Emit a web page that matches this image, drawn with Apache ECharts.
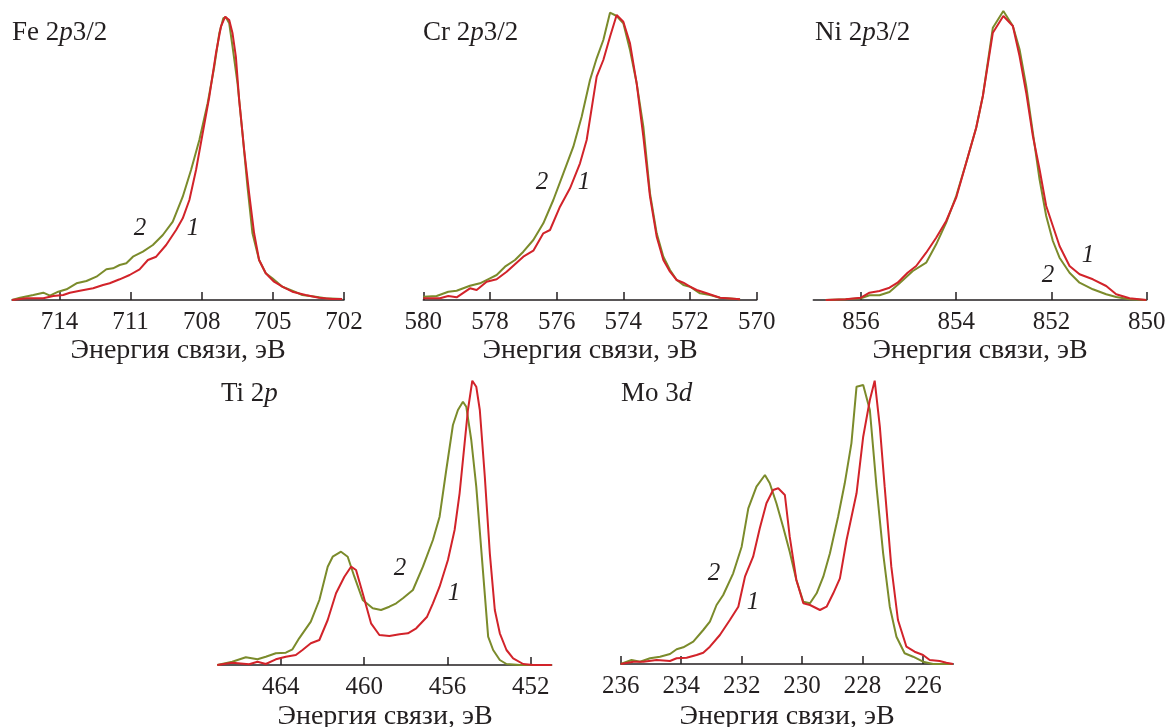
<!DOCTYPE html>
<html><head><meta charset="utf-8">
<script src="https://cdn.jsdelivr.net/npm/echarts@6/dist/echarts.min.js"></script>
<style>html,body{margin:0;padding:0;background:#fff}#c{width:1168px;height:727px}</style>
</head><body><div id="c"></div>
<script>
// ---- Fe 2p3/2 ----
const fe1E = [716, 715.38, 714.68, 714.26, 713.84, 713.56, 713.14, 712.58, 712.16, 711.88, 711.46, 711.04, 710.62, 710.27, 709.92, 709.50, 709.08, 708.80, 708.52, 708.24, 707.96, 707.68, 707.40, 707.19, 707.01, 706.84, 706.70, 706.56, 706.42, 706.21, 706.00, 705.79, 705.58, 705.30, 704.95, 704.60, 704.18, 703.62, 703.06, 702.50, 702.08];
const fe1I = [0, 1.7, 1.7, 4, 5, 7.3, 9.3, 11.7, 15, 16.7, 20.7, 25, 30.7, 40, 43.3, 55, 70, 81.7, 100, 130, 166.7, 203.3, 246.7, 273.3, 283.3, 280, 266.7, 243.3, 200, 150, 106.7, 66.7, 40, 26.7, 18.3, 13.3, 8.3, 5, 2.3, 1, 1];
const fe2E = [716, 715.66, 715.10, 714.68, 714.40, 714.05, 713.70, 713.28, 712.86, 712.44, 712.02, 711.74, 711.46, 711.18, 710.90, 710.48, 710.06, 709.64, 709.22, 708.80, 708.45, 708.10, 707.75, 707.47, 707.26, 707.09, 706.98, 706.84, 706.70, 706.49, 706.28, 706.07, 705.86, 705.58, 705.30, 705.02, 704.60, 704.18, 703.76, 703.20, 702.78, 702.08];
const fe2I = [0, 2.3, 5, 7.3, 4.3, 8.3, 10.7, 16.7, 19, 23.3, 30.7, 31.7, 35, 36.7, 43.3, 48.3, 55, 65, 78.3, 103.3, 130, 160, 196.7, 233.3, 266.7, 281.7, 282.7, 276.7, 253.3, 216.7, 166.7, 113.3, 66.7, 40, 26.7, 21.7, 13.3, 9.3, 5, 3.3, 1.7, 1];
const feTicks = [714, 711, 708, 705, 702];

// ---- Cr 2p3/2 ----
const cr1E = [580, 579.5, 579.25, 579, 578.6, 578.4, 578.1, 577.8, 577.5, 577, 576.7, 576.4, 576.2, 575.9, 575.6, 575.3, 575.1, 574.8, 574.6, 574.4, 574.2, 574, 573.8, 573.6, 573.4, 573.2, 573, 572.8, 572.6, 572.4, 572.2, 572, 571.8, 571.5, 571.1, 570.5];
const cr1I = [1.7, 1.7, 4, 2.7, 11.7, 10, 18.3, 20.7, 28.3, 43.3, 49.3, 66.7, 70, 93.3, 111.7, 136.7, 160, 223.3, 240, 263.3, 285, 278.3, 256.7, 216.7, 163.3, 103.3, 63.3, 40, 28.3, 20, 17.3, 13.3, 10, 6.7, 2.3, 0.7];
const cr2E = [580, 579.6, 579.25, 579, 578.6, 578.3, 578, 577.8, 577.55, 577.25, 577, 576.7, 576.4, 576.1, 575.8, 575.5, 575.25, 575, 574.8, 574.6, 574.4, 574.2, 574, 573.8, 573.6, 573.4, 573.2, 573, 572.8, 572.6, 572.4, 572.2, 572, 571.7, 571.4, 571.1, 570.5];
const cr2I = [3.3, 4, 8.3, 9.3, 14.3, 16.7, 21.7, 25, 33.3, 40, 48.3, 60, 76.7, 100, 126.7, 153.3, 183.3, 220, 241.7, 260, 287.3, 284, 276.7, 250, 216.7, 173.3, 106.7, 66.7, 43.3, 30, 20, 15, 13.3, 6.7, 5, 2.3, 0.7];
const crTicks = [580, 578, 576, 574, 572, 570];

// ---- Ni 2p3/2 ----
const ni1E = [856.74, 856.32, 856, 855.82, 855.61, 855.40, 855.23, 855.02, 854.84, 854.63, 854.42, 854.21, 854.00, 853.79, 853.58, 853.44, 853.23, 853.01, 852.81, 852.67, 852.53, 852.39, 852.25, 852.11, 851.97, 851.83, 851.62, 851.41, 851.13, 850.85, 850.64, 850.36, 850.01];
const ni1I = [0, 0.7, 2.3, 7.3, 9, 12.3, 17.3, 27.3, 34, 47.3, 62.3, 79, 102.3, 137.3, 172.3, 204, 267.3, 284, 274, 244, 207.3, 164, 130.7, 94, 74, 54, 34, 25.7, 20.7, 14, 5.7, 1.7, 0];
const ni2E = [856.74, 856.32, 856, 855.82, 855.61, 855.40, 855.19, 854.91, 854.63, 854.42, 854.21, 854.00, 853.79, 853.58, 853.44, 853.23, 853.01, 852.81, 852.67, 852.53, 852.39, 852.25, 852.11, 851.97, 851.83, 851.62, 851.41, 851.13, 850.85, 850.64, 850.36, 850.01];
const ni2I = [0, 0.7, 1.7, 4.7, 4.7, 8, 16.7, 29, 37.3, 55.7, 77.3, 104, 137.3, 172.3, 204, 272.3, 289, 274, 250.7, 214, 167.3, 120.7, 84, 59, 42.3, 27.3, 17.3, 10.7, 5.7, 3, 0.7, 0];
const niTicks = [856, 854, 852, 850];

// ---- Ti 2p ----
const ti1E = [467.05, 466.33, 465.52, 465.12, 464.72, 464.24, 463.76, 463.28, 462.96, 462.56, 462.15, 461.75, 461.35, 460.95, 460.63, 460.39, 460.07, 459.67, 459.27, 458.79, 458.30, 457.90, 457.50, 456.98, 456.70, 456.38, 455.98, 455.66, 455.42, 455.18, 455.02, 454.81, 454.62, 454.45, 454.21, 453.97, 453.73, 453.49, 453.17, 452.85, 452.37, 451.89, 451.00];
const ti1I = [0, 2.3, 0.7, 3.3, 1, 5.7, 8.3, 10, 15, 21.7, 25, 45, 71.7, 88.3, 98.3, 95, 71.7, 41.7, 30, 29, 30.7, 31.7, 36.7, 48.3, 61.7, 78.3, 105, 135, 171.7, 221.7, 255, 284.3, 278.3, 255, 188.3, 111.7, 55, 31.7, 15, 6.7, 1, 0, 0];
const ti2E = [467.05, 466.33, 465.68, 465.12, 464.72, 464.24, 463.76, 463.44, 463.12, 462.56, 462.15, 461.75, 461.51, 461.11, 460.79, 460.47, 460.07, 459.59, 459.19, 458.79, 458.46, 458.14, 457.66, 457.18, 456.70, 456.38, 456.06, 455.74, 455.50, 455.26, 455.10, 454.86, 454.62, 454.29, 454.05, 453.81, 453.49, 453.17, 452.53, 451.00];
const ti2I = [0, 3.3, 7.7, 5.7, 8.3, 11.7, 12.3, 15.7, 26.7, 43.3, 65, 98.3, 108.3, 113.3, 108.3, 88.3, 65, 56.7, 55, 58.3, 61.7, 66.7, 75, 98.3, 125, 148.3, 195, 240, 255, 263.3, 258.3, 225, 178.3, 91.7, 28.3, 15, 5, 1, 0, 0];
const tiTicks = [464, 460, 456, 452];

// ---- Mo 3d ----
const mo1E = [236, 235.58, 235.25, 234.81, 234.37, 234.15, 233.82, 233.49, 233.27, 233.05, 232.72, 232.39, 232.11, 231.89, 231.62, 231.40, 231.18, 230.96, 230.79, 230.57, 230.41, 230.19, 229.96, 229.74, 229.41, 229.19, 228.97, 228.75, 228.53, 228.20, 227.98, 227.76, 227.60, 227.43, 227.27, 227.05, 226.83, 226.55, 226.28, 226.00, 225.78, 225.45, 225.23, 225.01];
const mo1I = [0, 2.3, 2.3, 4, 3, 5.7, 6.3, 9, 11.3, 17.3, 29, 44, 57.3, 87.3, 107.3, 135.7, 160.7, 174, 175.7, 169, 127.3, 84, 60.7, 59, 54, 57.3, 70.7, 85.7, 124, 170.7, 227.3, 264, 283.3, 237.3, 177.3, 97.3, 44, 17.3, 12.3, 9, 4, 3, 1.3, 0];
const mo2E = [236, 235.64, 235.36, 235.03, 234.70, 234.37, 234.15, 233.93, 233.60, 233.27, 233.05, 232.83, 232.61, 232.28, 232.00, 231.78, 231.51, 231.23, 231.07, 230.85, 230.63, 230.41, 230.19, 229.96, 229.74, 229.52, 229.30, 229.08, 228.81, 228.59, 228.37, 228.20, 227.98, 227.76, 227.54, 227.32, 227.10, 226.88, 226.61, 226.33, 226.00, 225.67, 225.01];
const mo2I = [0, 4, 2.3, 5.7, 7.3, 10, 14.7, 16.7, 22.3, 34, 42.3, 59, 69, 90.7, 117.3, 155.7, 177.3, 189, 180.7, 160.7, 137.3, 112.3, 84, 62.3, 60.7, 70.7, 87.3, 110.7, 147.3, 180.7, 220.7, 277.3, 279, 254, 177.3, 110.7, 57.3, 27.3, 10.7, 7.3, 2.3, 0, 0];
const moTicks = [236, 234, 232, 230, 228, 226];

const axisName = 'Энергия связи, эВ';

const FONT = '"Liberation Serif", "DejaVu Serif", serif';
const INK = '#231f20';
const RED = '#d2232a';
const GREEN = '#7b8b2b';

const panels = [
  {E1: fe1E, I1: fe1I, E2: fe2E, I2: fe2I, ticks: feTicks, min: 702, max: 716,
   grid: {left: 12, width: 332, top: 5, height: 295}, ymax: 295, nameGap: 37},
  {E1: cr1E, I1: cr1I, E2: cr2E, I2: cr2I, ticks: crTicks, min: 570, max: 580,
   grid: {left: 423.3, width: 333.4, top: 5, height: 295}, ymax: 295, nameGap: 37},
  {E1: ni1E, I1: ni1I, E2: ni2E, I2: ni2I, ticks: niTicks, min: 850, max: 857,
   grid: {left: 813.3, width: 333.4, top: 5, height: 295}, ymax: 295, nameGap: 37},
  {E1: ti1E, I1: ti1I, E2: ti2E, I2: ti2I, ticks: tiTicks, min: 451, max: 467,
   grid: {left: 218.3, width: 333.4, top: 370, height: 295}, ymax: 295, nameGap: 38},
  {E1: mo1E, I1: mo1I, E2: mo2E, I2: mo2I, ticks: moTicks, min: 225, max: 236,
   grid: {left: 620.7, width: 332.6, top: 370, height: 294}, ymax: 294, nameGap: 39}
];

const zip = (a, b) => a.map((v, i) => [v, b[i]]);

const grids = [], xAxes = [], yAxes = [], series = [];
panels.forEach((p, i) => {
  grids.push(Object.assign({containLabel: false, outerBoundsMode: 'none'}, p.grid));
  xAxes.push({
    gridIndex: i, type: 'value', inverse: true, min: p.min, max: p.max,
    axisLine: {show: true, lineStyle: {color: INK, width: 1.5}},
    axisTick: {show: true, inside: true, length: 8, customValues: p.ticks, lineStyle: {color: INK, width: 1.5}},
    axisLabel: {customValues: p.ticks, fontFamily: FONT, fontSize: 25, color: INK, margin: 10},
    splitLine: {show: false},
    name: axisName, nameLocation: 'middle', nameGap: p.nameGap,
    nameTextStyle: {fontFamily: FONT, fontSize: 28, color: INK}
  });
  yAxes.push({gridIndex: i, type: 'value', min: 0, max: p.ymax, show: false});
  series.push({type: 'line', xAxisIndex: i, yAxisIndex: i, data: zip(p.E2, p.I2), showSymbol: false,
    lineStyle: {color: GREEN, width: 2}, itemStyle: {color: GREEN}, silent: true, animation: false});
  series.push({type: 'line', xAxisIndex: i, yAxisIndex: i, data: zip(p.E1, p.I1), showSymbol: false,
    lineStyle: {color: RED, width: 2}, itemStyle: {color: RED}, silent: true, animation: false});
});

const titleRich = {
  a: {fontFamily: FONT, fontSize: 27, color: INK, fontWeight: 'normal'},
  i: {fontFamily: FONT, fontSize: 27, color: INK, fontStyle: 'italic', fontWeight: 'normal'}
};
const mkTitle = (text, left, top) => ({text, left, top, padding: 0,
  textStyle: {fontWeight: 'normal', rich: titleRich}});

const curveLbl = (t, x, y) => ({type: 'text', x, y, silent: true,
  style: {text: t, font: 'italic 25px "Liberation Serif"', fill: INK, align: 'center', verticalAlign: 'middle'}});

const chart = echarts.init(document.getElementById('c'), null, {renderer: 'canvas'});
chart.setOption({
  animation: false,
  backgroundColor: '#fff',
  title: [
    mkTitle('{a|Fe 2}{i|p}{a|3/2}', 12, 19),
    mkTitle('{a|Cr 2}{i|p}{a|3/2}', 423, 19),
    mkTitle('{a|Ni 2}{i|p}{a|3/2}', 815, 19),
    mkTitle('{a|Ti 2}{i|p}', 221, 380),
    mkTitle('{a|Mo 3}{i|d}', 621, 380)
  ],
  grid: grids, xAxis: xAxes, yAxis: yAxes, series,
  graphic: [
    curveLbl('2', 140, 228), curveLbl('1', 193, 228),
    curveLbl('2', 542, 182), curveLbl('1', 584, 182),
    curveLbl('1', 1088, 255), curveLbl('2', 1048, 275),
    curveLbl('2', 400, 568), curveLbl('1', 454, 593),
    curveLbl('2', 714, 573), curveLbl('1', 753, 602)
  ]
});
</script></body></html>
